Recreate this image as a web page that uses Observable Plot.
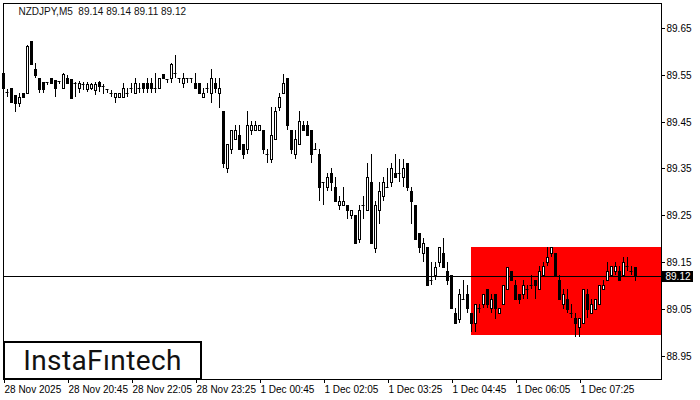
<!DOCTYPE html>
<html>
<head>
<meta charset="utf-8">
<script src="https://cdn.jsdelivr.net/npm/d3@7"></script>
<script src="https://cdn.jsdelivr.net/npm/@observablehq/plot@0.6"></script>
<style>
  html, body { margin: 0; padding: 0; background: #fff; }
  #wrap { position: relative; width: 700px; height: 400px; }
  #logo {
    position: absolute; left: 3px; top: 341px; width: 199px; height: 39px;
    box-sizing: border-box; border: 2px solid #000; background: #fff;
    font-family: Roboto, "Liberation Sans", sans-serif; font-size: 28px; color: #111;
    display: flex; align-items: center; justify-content: center; letter-spacing: 0.4px;
  }
</style>
</head>
<body>
<div id="wrap"><div id="chart"></div><div id="logo">InstaFıntech</div></div>
<script>
const symbolTitle = "NZDJPY,M5  89.14 89.14 89.11 89.12";

const open = [89.554,89.513,89.522,89.507,89.490,89.511,89.511,89.622,89.562,89.543,
89.535,89.535,89.543,89.539,89.537,89.522,89.543,89.541,89.532,89.522,
89.530,89.520,89.522,89.518,89.535,89.526,89.520,89.511,89.503,89.503,
89.503,89.511,89.522,89.511,89.522,89.532,89.532,89.532,89.522,89.522,
89.552,89.541,89.543,89.554,89.543,89.532,89.543,89.543,89.532,89.532,
89.503,89.522,89.511,89.532,89.511,89.473,89.351,89.391,89.413,89.421,
89.402,89.391,89.432,89.432,89.432,89.432,89.381,89.370,89.413,89.481,
89.511,89.543,89.432,89.381,89.402,89.443,89.443,89.432,89.391,89.381,
89.321,89.310,89.340,89.310,89.272,89.272,89.272,89.250,89.250,89.199,
89.272,89.261,89.321,89.180,89.261,89.291,89.310,89.321,89.340,89.340,
89.332,89.362,89.302,89.272,89.212,89.169,89.182,89.112,89.122,89.150,
89.169,89.131,89.122,89.041,89.028,89.071,89.082,89.041,89.020,89.052,
89.060,89.092,89.052,89.082,89.041,89.060,89.092,89.131,89.101,89.082,
89.082,89.092,89.101,89.112,89.092,89.122,89.150,89.169,89.169,89.112,
89.060,89.071,89.041,89.030,89.011,89.020,89.082,89.041,89.050,89.060,
89.092,89.112,89.122,89.131,89.131,89.122,89.141,89.131,89.140];

const high = [89.556,89.520,89.522,89.507,89.511,89.511,89.614,89.622,89.575,89.543,
89.535,89.535,89.543,89.539,89.537,89.554,89.550,89.541,89.535,89.537,
89.535,89.535,89.532,89.535,89.537,89.530,89.520,89.518,89.511,89.511,
89.532,89.522,89.532,89.543,89.532,89.532,89.543,89.543,89.554,89.543,
89.552,89.541,89.575,89.592,89.543,89.554,89.543,89.543,89.554,89.532,
89.522,89.532,89.562,89.543,89.543,89.473,89.402,89.432,89.443,89.443,
89.402,89.473,89.451,89.451,89.443,89.432,89.391,89.481,89.481,89.511,
89.552,89.543,89.432,89.432,89.473,89.451,89.451,89.432,89.404,89.391,
89.321,89.340,89.351,89.332,89.291,89.310,89.272,89.261,89.250,89.272,
89.291,89.362,89.381,89.280,89.321,89.332,89.351,89.362,89.381,89.370,
89.370,89.362,89.310,89.272,89.212,89.201,89.182,89.150,89.150,89.182,
89.201,89.150,89.122,89.052,89.092,89.112,89.101,89.041,89.060,89.060,
89.082,89.092,89.082,89.082,89.052,89.101,89.139,89.131,89.112,89.082,
89.112,89.101,89.122,89.112,89.141,89.150,89.182,89.182,89.169,89.122,
89.092,89.092,89.060,89.041,89.030,89.092,89.092,89.071,89.071,89.101,
89.112,89.150,89.141,89.150,89.141,89.161,89.161,89.141,89.140];

const low = [89.511,89.503,89.490,89.471,89.481,89.503,89.511,89.573,89.543,89.511,
89.511,89.528,89.532,89.503,89.530,89.522,89.532,89.500,89.503,89.511,
89.518,89.513,89.518,89.507,89.513,89.509,89.511,89.503,89.490,89.503,
89.503,89.503,89.511,89.511,89.511,89.511,89.511,89.511,89.511,89.522,
89.543,89.532,89.532,89.543,89.532,89.522,89.532,89.532,89.522,89.511,
89.503,89.511,89.490,89.511,89.479,89.351,89.340,89.381,89.413,89.391,
89.370,89.381,89.421,89.432,89.432,89.381,89.362,89.362,89.413,89.473,
89.511,89.432,89.381,89.370,89.402,89.432,89.421,89.362,89.391,89.280,
89.272,89.302,89.302,89.280,89.261,89.272,89.242,89.242,89.191,89.191,
89.242,89.261,89.191,89.169,89.231,89.280,89.310,89.310,89.332,89.321,
89.310,89.302,89.231,89.199,89.169,89.150,89.101,89.101,89.112,89.139,
89.139,89.101,89.052,89.020,89.020,89.071,89.041,89.000,89.000,89.041,
89.052,89.052,89.041,89.028,89.041,89.060,89.092,89.112,89.071,89.060,
89.071,89.071,89.092,89.071,89.092,89.122,89.141,89.161,89.122,89.071,
89.050,89.041,89.030,88.990,88.990,89.020,89.030,89.041,89.050,89.060,
89.092,89.112,89.122,89.122,89.112,89.122,89.131,89.122,89.110];

const close = [89.522,89.513,89.492,89.490,89.503,89.503,89.612,89.573,89.550,89.520,
89.520,89.535,89.532,89.522,89.537,89.552,89.532,89.500,89.532,89.532,
89.530,89.530,89.530,89.530,89.526,89.526,89.520,89.511,89.511,89.511,
89.522,89.511,89.522,89.532,89.522,89.522,89.522,89.522,89.522,89.543,
89.543,89.541,89.573,89.554,89.543,89.543,89.543,89.543,89.522,89.511,
89.511,89.522,89.543,89.522,89.522,89.362,89.402,89.432,89.432,89.391,
89.381,89.443,89.443,89.443,89.443,89.391,89.381,89.421,89.473,89.503,
89.532,89.443,89.391,89.413,89.451,89.432,89.421,89.381,89.391,89.310,
89.321,89.332,89.321,89.280,89.280,89.280,89.261,89.261,89.191,89.261,
89.272,89.332,89.191,89.272,89.302,89.321,89.310,89.351,89.332,89.340,
89.351,89.310,89.280,89.199,89.182,89.191,89.101,89.112,89.139,89.182,
89.139,89.112,89.052,89.020,89.082,89.071,89.052,89.020,89.060,89.052,
89.082,89.060,89.071,89.052,89.052,89.101,89.139,89.112,89.071,89.071,
89.101,89.092,89.101,89.101,89.131,89.141,89.161,89.182,89.122,89.071,
89.082,89.050,89.041,89.020,89.030,89.092,89.050,89.060,89.071,89.101,
89.101,89.131,89.141,89.141,89.112,89.150,89.141,89.131,89.120];

// x-axis tick labels (bar index -> label)
const xTickBars = [0, 16, 32, 48, 64, 80, 96, 112, 128, 144];
const xTickLabels = ["28 Nov 2025","28 Nov 20:45","28 Nov 22:05","28 Nov 23:25","1 Dec 00:45",
                     "1 Dec 02:05","1 Dec 03:25","1 Dec 04:45","1 Dec 06:05","1 Dec 07:25"];
const yTicks = [88.95, 89.05, 89.15, 89.25, 89.35, 89.45, 89.55, 89.65];

// highlighted rectangle pattern
const zoneStartBar = [117];
const zoneHigh = [89.182];
const zoneLow = [88.994];

const candles = open.map((o, i) => ({i, o, h: high[i], l: low[i], c: close[i]}));
const bulls = candles.filter(d => d.c > d.o);
const bears = candles.filter(d => d.c < d.o);
const dojis = candles.filter(d => d.c === d.o);
const lastClose = close[close.length - 1];
const xMax = 164.5;
const zone = zoneStartBar.map((s, k) => ({s, hi: zoneHigh[k], lo: zoneLow[k]}));
const labelOf = new Map(xTickBars.map((b, k) => [b, xTickLabels[k]]));
const f2 = d3.format(".2f");

const chart = Plot.plot({
  width: 700, height: 400,
  marginLeft: 3, marginRight: 39, marginTop: 3, marginBottom: 21,
  style: {fontFamily: "'Liberation Sans', Arial, sans-serif", fontSize: "10px", background: "white", color: "black"},
  x: {type: "linear", domain: [0, xMax], label: null, round: true},
  y: {domain: [88.9, 89.7034], label: null, round: true},
  marks: [
    Plot.rect(zone, {x1: "s", x2: () => xMax, y1: "lo", y2: "hi", fill: "#ff0000"}),
    Plot.ruleY([lastClose], {stroke: "black", strokeWidth: 1}),
    Plot.ruleX(candles, {x: "i", y1: "l", y2: "h", stroke: "black", strokeWidth: 1}),
    Plot.rect(bears, {x1: d => d.i - 0.25, x2: d => d.i + 0.25, y1: "o", y2: "c", dx: 0.5, dy: 0.5, fill: "black", stroke: "black", strokeWidth: 1}),
    Plot.rect(bulls, {x1: d => d.i - 0.25, x2: d => d.i + 0.25, y1: "o", y2: "c", dx: 0.5, dy: 0.5, fill: "white", stroke: "black", strokeWidth: 1}),
    Plot.ruleY(dojis, {y: "o", x1: d => d.i - 0.25, x2: d => d.i + 0.5, dx: -0.5, stroke: "black", strokeWidth: 1}),
    Plot.frame({stroke: "black"}),
    Plot.axisY(yTicks, {anchor: "right", tickSize: 3, tickPadding: 2, tickFormat: f2, label: null, fontSize: 10}),
    Plot.axisX(xTickBars, {anchor: "bottom", tickSize: 4, tickPadding: 2, textAnchor: "start", dx: 1,
      tickFormat: d => labelOf.get(d), label: null, fontSize: 10}),
    Plot.ruleY([lastClose], {x1: () => xMax, x2: () => xMax + 8, stroke: "black", strokeWidth: 11}),
    Plot.text([lastClose], {x: () => xMax, y: d => d, dx: 4, textAnchor: "start", fill: "white", text: d => f2(d), fontSize: 10}),
    Plot.text([symbolTitle], {frameAnchor: "top-left", dx: 15, dy: 4, lineAnchor: "top", textAnchor: "start", text: d => d, fill: "#111", fontSize: 10})
  ]
});
document.getElementById("chart").appendChild(chart);
</script>
</body>
</html>
